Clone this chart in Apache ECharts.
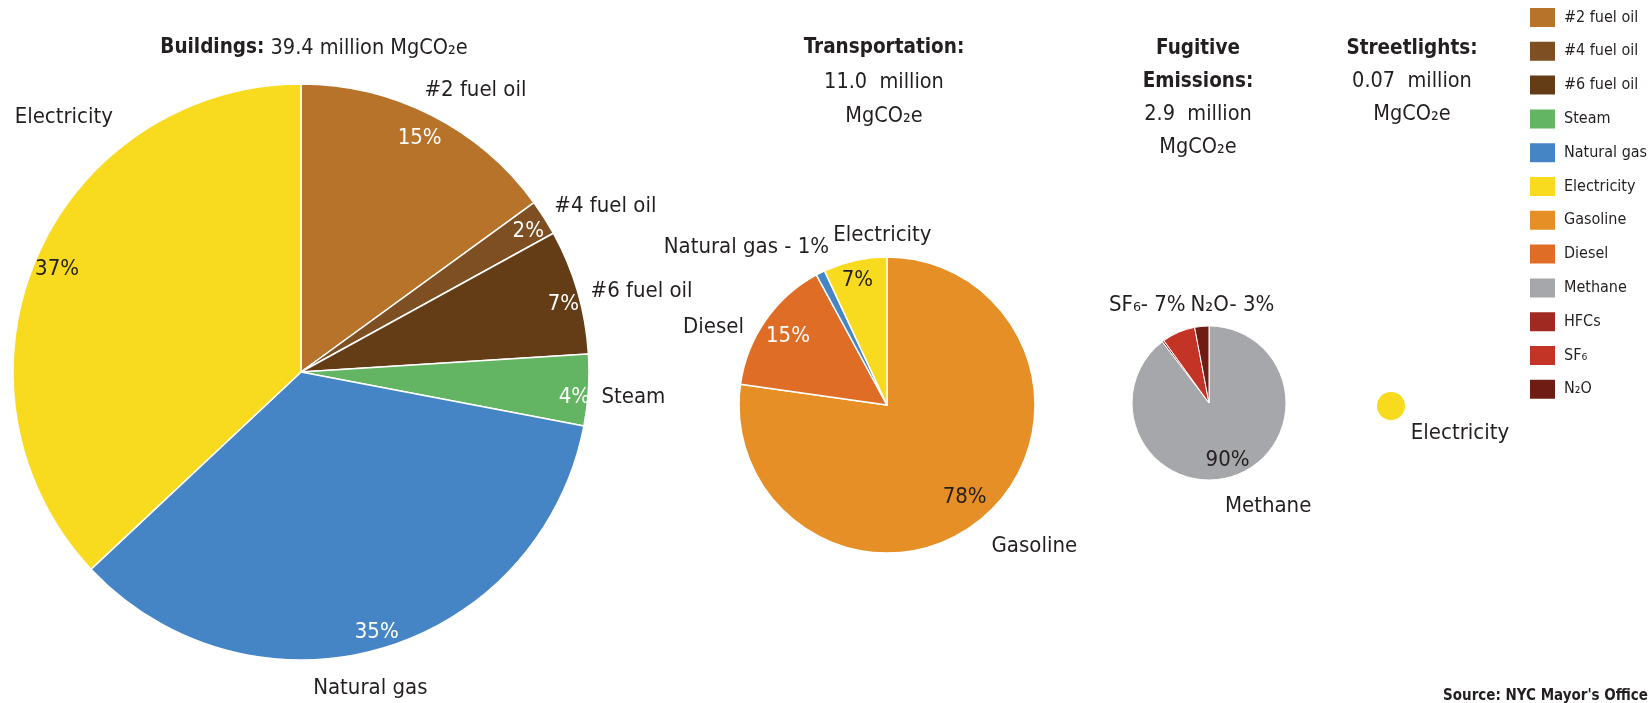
<!DOCTYPE html>
<html>
<head>
<meta charset="utf-8">
<script src="https://cdn.jsdelivr.net/npm/echarts@6/dist/echarts.min.js"></script>
<style>
  html, body { margin: 0; padding: 0; background: #ffffff; }
  #chart { width: 1652px; height: 703px; }
</style>
</head>
<body>
<div id="chart"></div>
<script>
// ---------------- DATA ----------------
const buildingNames  = ['#2 fuel oil', '#4 fuel oil', '#6 fuel oil', 'Steam', 'Natural gas', 'Electricity'];
const buildingValues = [15, 2, 7, 4, 35, 37];
const buildingLabels = ['#2 fuel oil', '#4 fuel oil', '#6 fuel oil', 'Steam', 'Natural gas', 'Electricity'];

const transportNames  = ['Gasoline', 'Diesel', 'Natural gas', 'Electricity'];
const transportValues = [78, 15, 1, 7];
const transportLabels = ['Gasoline', 'Diesel', 'Natural gas - 1%', 'Electricity'];

const fugitiveNames  = ['Methane', 'HFCs', 'SF\u2086', 'N\u2082O'];
const fugitiveValues = [90, 0.4, 7, 3];
const fugitiveLabels = ['Methane', '', 'SF\u2086- 7%', 'N\u2082O- 3%'];

const streetNames  = ['Electricity'];
const streetValues = [0.07];
const streetLabels = ['Electricity'];

const legendNames = ['#2 fuel oil', '#4 fuel oil', '#6 fuel oil', 'Steam', 'Natural gas', 'Electricity',
                     'Gasoline', 'Diesel', 'Methane', 'HFCs', 'SF\u2086', 'N\u2082O'];

const titleTexts = {
  buildings: '{b|Buildings:} 39.4 million MgCO\u2082e',
  transport: '{b|Transportation:}\n11.0  million\nMgCO\u2082e',
  fugitive: '{b|Fugitive}\n{b|Emissions:}\n2.9  million\nMgCO\u2082e',
  street: '{b|Streetlights:}\n0.07  million\nMgCO\u2082e',
  source: "Source: NYC Mayor's Office"
};

// ---------------- STYLE ----------------
const FONT = "'Liberation Sans Narrow', 'DejaVu Sans Condensed', 'Roboto Condensed', 'Liberation Sans', sans-serif";
const INK = '#231f20';
const colors = {
  '#2 fuel oil': '#b8732a',
  '#4 fuel oil': '#7d4f22',
  '#6 fuel oil': '#643d17',
  'Steam': '#63b463',
  'Natural gas': '#4585c5',
  'Electricity': '#f8da1e',
  'Gasoline': '#e68f26',
  'Diesel': '#e06d26',
  'Methane': '#a6a7aa',
  'HFCs': '#a02a22',
  'SF\u2086': '#c33426',
  'N\u2082O': '#6e1c14'
};
const darkPctLabel = { 'Electricity': true, 'Gasoline': true, 'Methane': true };

// pie geometry (layout only)
const pies = {
  buildings: { center: [301, 372], r: 288, pctRing: [242, 288], nameRing: [310, 360], border: 1.5,
    showPct: [1, 1, 1, 1, 1, 1],
    nameNudge: [[21, 19], [19, 15], [16, 14], [-5, 4], [-25, -8], [73, -120]],
    pctNudge: [[-3, 5], [1, 3], [5, 7], [6, 8], [1, 3], [2, 4]] },
  transport: { center: [887, 405], r: 148, pctRing: [92, 148], nameRing: [160, 210], border: 1.5,
    showPct: [1, 1, 0, 1],
    nameNudge: [[24, -1], [-19, 29], [-56, 10], [36, 14]],
    pctNudge: [[-3, -1], [2, 1], [0, 0], [-3, -5]] },
  fugitive: { center: [1209, 403], r: 77, pctRing: [33, 77], nameRing: [95, 125], border: 1,
    showPct: [1, 0, 0, 0],
    nameNudge: [[23, -4], [0, 0], [-17, 6], [34, 15]],
    pctNudge: [[0, 2], [0, 0], [0, 0], [0, 0]] },
  street: { center: [1391, 406], r: 14, pctRing: [0, 14], nameRing: [50, 70], border: 0,
    showPct: [0],
    nameNudge: [[69, -36]],
    pctNudge: [[0, 0]] }
};

function buildPie(key, names, values, labels) {
  const g = pies[key];
  const main = {
    type: 'pie', id: key + '-main', name: key,
    center: g.center, radius: [0, g.r], startAngle: 90, clockwise: true,
    avoidLabelOverlap: false, silent: false,
    emphasis: { scale: false },
    label: { show: false }, labelLine: { show: false },
    itemStyle: { borderColor: '#ffffff', borderWidth: g.border },
    data: names.map((n, i) => ({ name: n, value: values[i], itemStyle: { color: colors[n] } }))
  };
  const pct = {
    type: 'pie', id: key + '-pct',
    center: g.center, radius: g.pctRing, startAngle: 90, clockwise: true,
    avoidLabelOverlap: false, silent: true, legendHoverLink: false,
    emphasis: { disabled: true },
    itemStyle: { color: 'rgba(0,0,0,0)', borderWidth: 0 },
    labelLine: { show: false },
    label: {
      show: true, position: 'inside', fontFamily: FONT, fontSize: 22,
      formatter: p => p.value + '%'
    },
    labelLayout: p => { const n = g.pctNudge[p.dataIndex]; return { dx: n[0], dy: n[1] }; },
    data: names.map((n, i) => ({
      name: n, value: values[i],
      label: { show: !!g.showPct[i], color: darkPctLabel[n] ? INK : '#ffffff' }
    }))
  };
  const nm = {
    type: 'pie', id: key + '-names',
    center: g.center, radius: g.nameRing, startAngle: 90, clockwise: true,
    avoidLabelOverlap: false, silent: true, legendHoverLink: false,
    emphasis: { disabled: true },
    itemStyle: { color: 'rgba(0,0,0,0)', borderWidth: 0 },
    labelLine: { show: false },
    label: {
      show: true, position: 'inside', fontFamily: FONT, fontSize: 22, color: INK,
      formatter: p => labels[p.dataIndex]
    },
    labelLayout: p => { const n = g.nameNudge[p.dataIndex]; return { dx: n[0], dy: n[1] }; },
    data: names.map((n, i) => ({ name: n, value: values[i], label: { show: labels[i] !== '' } }))
  };
  return [main, pct, nm];
}

function titleEntry(text, x, top, lh) {
  return {
    text: text, left: x, top: top, textAlign: 'center', padding: 0,
    textStyle: {
      fontFamily: FONT, fontSize: 21.5, fontWeight: 'normal', color: INK, lineHeight: lh,
      rich: { b: { fontFamily: FONT, fontWeight: 'bold', fontSize: 20.5, color: INK, lineHeight: lh } }
    }
  };
}

const option = {
  backgroundColor: '#ffffff',
  animation: false,
  title: [
    titleEntry(titleTexts.buildings, 314, 33, 30),
    titleEntry(titleTexts.transport, 884, 31, 34),
    titleEntry(titleTexts.fugitive, 1198, 32, 33),
    titleEntry(titleTexts.street, 1412, 32, 33),
    {
      text: titleTexts.source, right: 4, top: 689, padding: 0,
      textStyle: { fontFamily: FONT, fontSize: 15, fontWeight: 'bold', color: INK }
    }
  ],
  legend: {
    orient: 'vertical', left: 1528, top: 6, padding: 0,
    itemWidth: 27, itemHeight: 21, itemGap: 10.8,
    selectedMode: false, icon: 'rect',
    textStyle: { fontFamily: FONT, fontSize: 16, color: INK, padding: [0, 0, 0, 3] },
    data: legendNames.map(n => ({ name: n, itemStyle: { color: colors[n] } }))
  },
  series: [].concat(
    buildPie('buildings', buildingNames, buildingValues, buildingLabels),
    buildPie('transport', transportNames, transportValues, transportLabels),
    buildPie('fugitive', fugitiveNames, fugitiveValues, fugitiveLabels),
    buildPie('street', streetNames, streetValues, streetLabels)
  )
};

const chart = echarts.init(document.getElementById('chart'), null, { renderer: 'canvas' });
chart.setOption(option);
</script>
</body>
</html>
